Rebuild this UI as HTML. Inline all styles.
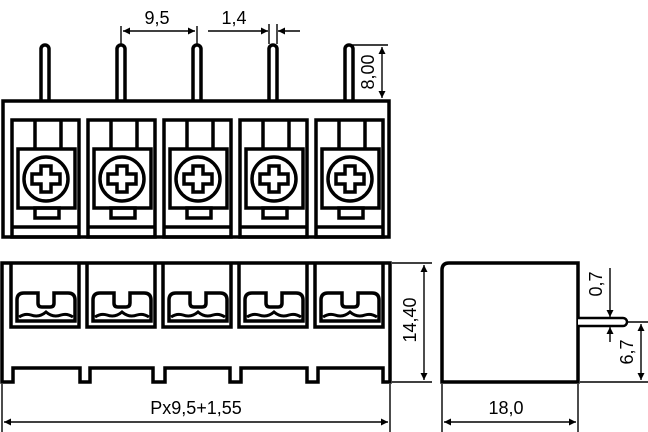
<!DOCTYPE html>
<html><head><style>html,body{margin:0;padding:0;background:#fff}svg{display:block}</style></head>
<body>
<svg width="648" height="432" viewBox="0 0 648 432" xmlns="http://www.w3.org/2000/svg" font-family="Liberation Sans, sans-serif">
<defs>
<marker id="a" viewBox="0 0 10 10" refX="10" refY="5" markerWidth="10" markerHeight="7" orient="auto-start-reverse" markerUnits="userSpaceOnUse"><path d="M0,0L10,5L0,10z" fill="#000"/></marker>
<g id="bay">
<rect x="12" y="120" width="67" height="117" fill="none" stroke="#000" stroke-width="3.5"/>
<line x1="35" y1="120" x2="35" y2="150" stroke="#000" stroke-width="3.5"/>
<line x1="61" y1="120" x2="61" y2="150" stroke="#000" stroke-width="3.5"/>
<rect x="18" y="149" width="57" height="59" fill="#fff" stroke="#000" stroke-width="3.5"/>
<circle cx="46" cy="179" r="22" fill="none" stroke="#000" stroke-width="3.5"/>
<path d="M41,166h10v8h9v10h-9v8h-10v-8h-9v-10h9z" fill="none" stroke="#000" stroke-width="3.5"/>
<rect x="35" y="208" width="24" height="10" fill="none" stroke="#000" stroke-width="3.5"/>
<line x1="12" y1="227" x2="79" y2="227" stroke="#000" stroke-width="3.5"/>
</g>
<g id="pin"><path d="M-4,100V49a4,4 0 0 1 8,0V100" fill="#fff" stroke="#000" stroke-width="3.5"/></g>
<g id="fb">
<path d="M11,263V327H79V263" fill="none" stroke="#000" stroke-width="3.5"/>
<path d="M17,321V300q0,-7 7,-7h14v10q0,4 4,4h8q4,0 4,-4v-10h14q7,0 7,7v21z" fill="none" stroke="#000" stroke-width="3.5"/>
<path d="M19,317q6,-4 12,-2q8,3 15,-3q7,6 15,3q6,-2 12,2" fill="none" stroke="#000" stroke-width="3"/>
</g>
</defs>
<use href="#pin" x="45"/><use href="#pin" x="121"/><use href="#pin" x="197"/><use href="#pin" x="273"/><use href="#pin" x="349"/>
<rect x="3" y="101" width="386" height="136" fill="#fff" stroke="#000" stroke-width="3.5"/>
<use href="#bay"/><use href="#bay" x="76"/><use href="#bay" x="152"/><use href="#bay" x="228"/><use href="#bay" x="304"/>
<g stroke="#000" stroke-width="1.4" fill="none">
<line x1="121" y1="26" x2="121" y2="44"/><line x1="197" y1="26" x2="197" y2="44"/>
<line x1="123" y1="31" x2="195" y2="31" marker-start="url(#a)" marker-end="url(#a)"/>
<line x1="269" y1="24" x2="269" y2="44"/><line x1="277" y1="24" x2="277" y2="44"/>
<line x1="208" y1="31" x2="268" y2="31" marker-end="url(#a)"/>
<line x1="300" y1="31" x2="278" y2="31" marker-end="url(#a)"/>
<line x1="352" y1="45" x2="388" y2="45"/>
<line x1="382" y1="47" x2="382" y2="98" marker-start="url(#a)" marker-end="url(#a)"/>
</g>
<g font-size="18" fill="#000">
<text x="157" y="24" text-anchor="middle">9,5</text>
<text x="234" y="24" text-anchor="middle">1,4</text>
<text transform="translate(374,72) rotate(-90)" text-anchor="middle">8,00</text>
</g>
<path d="M2,263H390V382H383V368H318V382H307V368H241V382H230V368H165V382H153V368H90V382H80V368H13V382H2Z" fill="none" stroke="#000" stroke-width="3.5"/>
<use href="#fb"/><use href="#fb" x="76"/><use href="#fb" x="152"/><use href="#fb" x="228"/><use href="#fb" x="304"/>
<path d="M442,382V270q0,-7 7,-7H578V382Z" fill="none" stroke="#000" stroke-width="3.5"/>
<path d="M578,318H623a4,4 0 0 1 0,8H578" fill="#fff" stroke="#000" stroke-width="2.5"/>
<g stroke="#000" stroke-width="1.4" fill="none">
<line x1="392" y1="263" x2="432" y2="263"/><line x1="392" y1="382" x2="432" y2="382"/>
<line x1="424" y1="265" x2="424" y2="380" marker-start="url(#a)" marker-end="url(#a)"/>
<line x1="2" y1="384" x2="2" y2="432"/><line x1="390" y1="384" x2="390" y2="432"/>
<line x1="4" y1="422" x2="388" y2="422" marker-start="url(#a)" marker-end="url(#a)"/>
<line x1="442" y1="384" x2="442" y2="432"/><line x1="578" y1="384" x2="578" y2="432"/>
<line x1="444" y1="422" x2="576" y2="422" marker-start="url(#a)" marker-end="url(#a)"/>
<line x1="610" y1="268" x2="610" y2="317" marker-end="url(#a)"/>
<line x1="610" y1="342" x2="610" y2="327" marker-end="url(#a)"/>
<line x1="626" y1="322" x2="648" y2="322"/>
<line x1="580" y1="382" x2="648" y2="382"/>
<line x1="641" y1="324" x2="641" y2="380" marker-start="url(#a)" marker-end="url(#a)"/>
</g>
<g font-size="18" fill="#000">
<text transform="translate(416,320) rotate(-90)" text-anchor="middle">14,40</text>
<text x="196" y="414" text-anchor="middle">Px9,5+1,55</text>
<text x="506" y="414" text-anchor="middle">18,0</text>
<text transform="translate(602,284) rotate(-90)" text-anchor="middle">0,7</text>
<text transform="translate(633,352) rotate(-90)" text-anchor="middle">6,7</text>
</g>
</svg>
</body></html>
